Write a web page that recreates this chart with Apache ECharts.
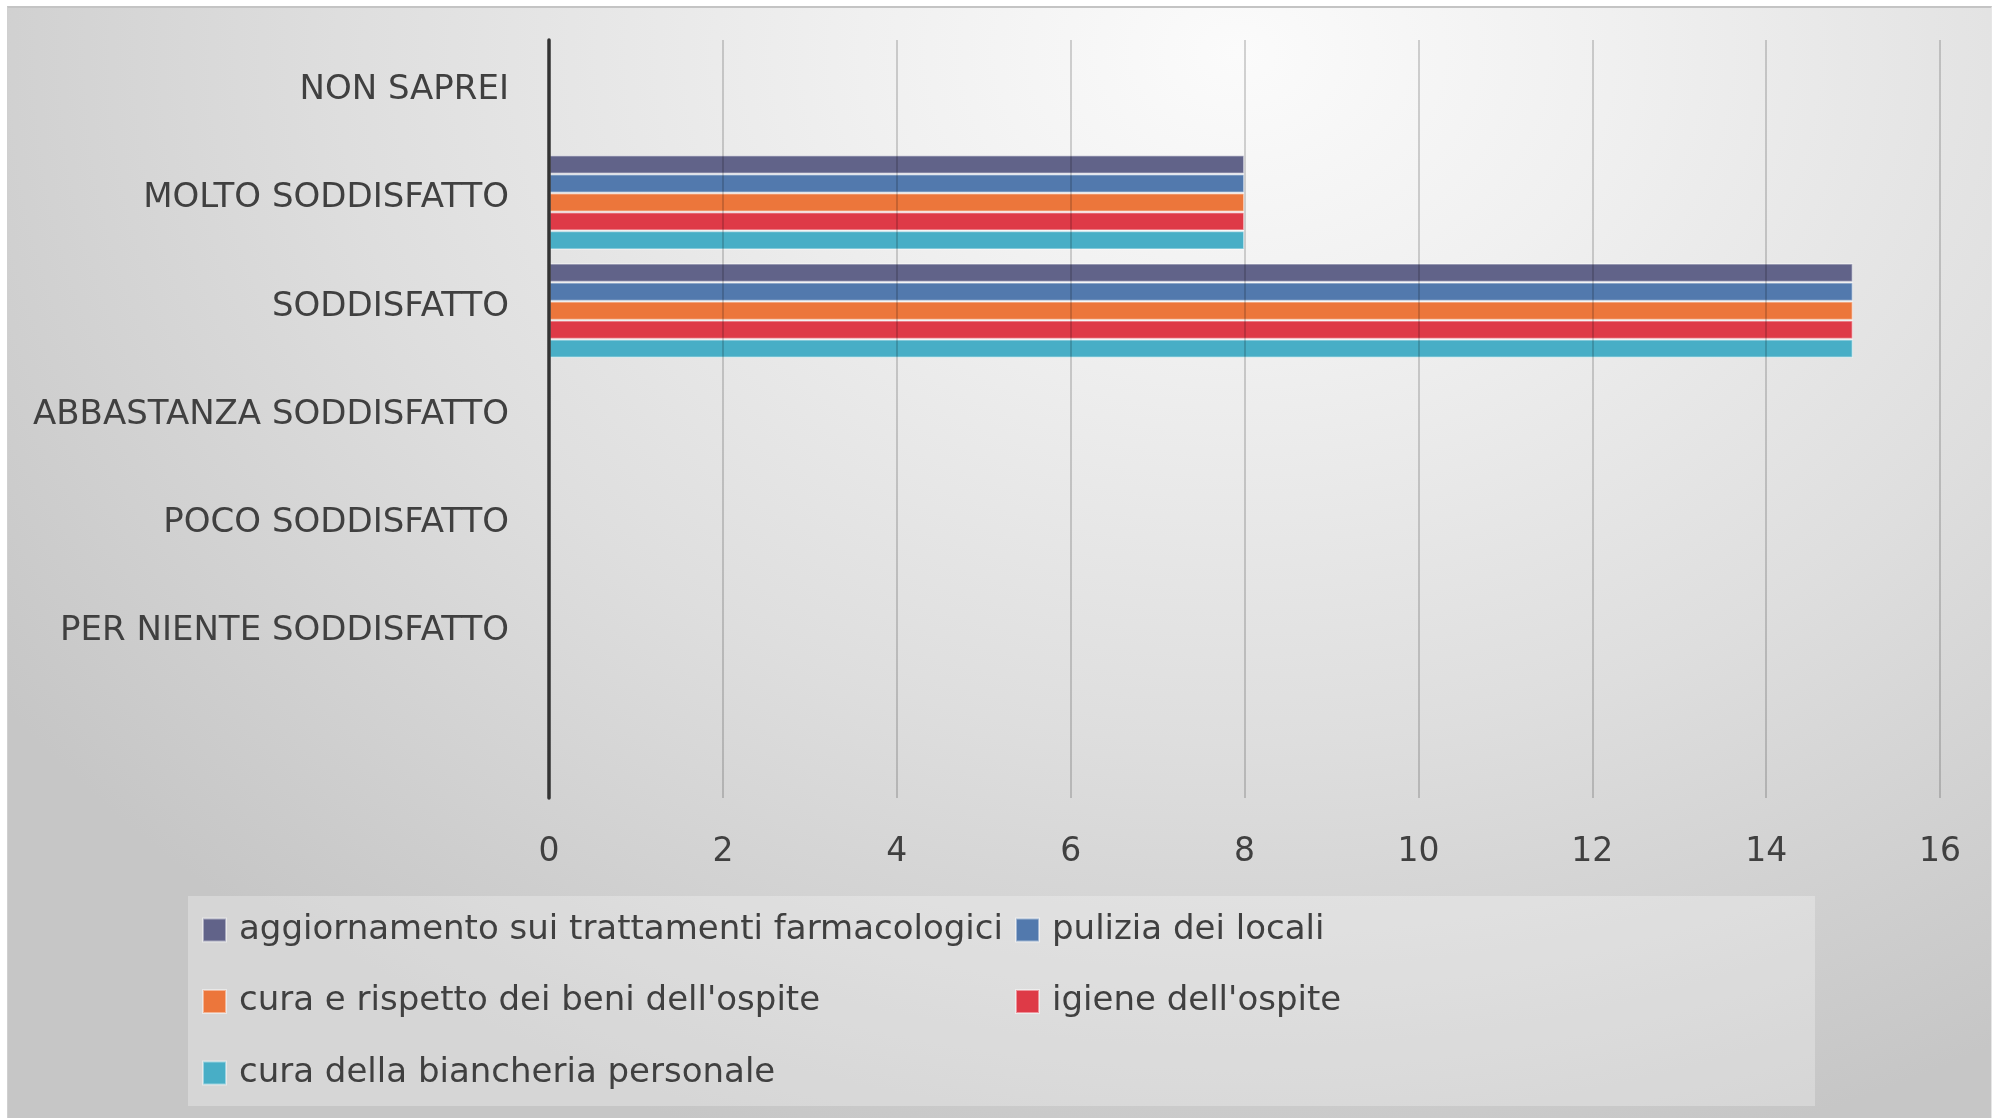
<!DOCTYPE html>
<html>
<head>
<meta charset="utf-8">
<title>Soddisfazione dei servizi</title>
<script src="https://cdn.jsdelivr.net/npm/echarts@6/dist/echarts.min.js"></script>
<style>
  html, body { margin: 0; padding: 0; background: #ffffff; }
  #panel {
    position: absolute; left: 7px; top: 6px; width: 1985px; height: 1112px;
    border-top: 2px solid #c4c4c4; border-left: 1px solid #d0d0d0; border-right: 1px solid #e6e6e6;
    box-sizing: border-box;
    background: radial-gradient(ellipse 1500px 1150px at 62% 4%, #fbfbfb 0%, #f0f0f0 25%, #dedede 60%, #c6c6c6 100%);
  }
  #chart { position: absolute; left: 0; top: 0; width: 2002px; height: 1118px; }
</style>
</head>
<body>
<div id="panel"></div>
<div id="chart"></div>
<script>
// Categories, bottom to top along the vertical axis (the lowest band has no label)
const categories = ['', 'PER NIENTE SODDISFATTO', 'POCO SODDISFATTO', 'ABBASTANZA SODDISFATTO', 'SODDISFATTO', 'MOLTO SODDISFATTO', 'NON SAPREI'];

// Series names and colours
const seriesNames = [
  'aggiornamento sui trattamenti farmacologici',
  'pulizia dei locali',
  "cura e rispetto dei beni dell'ospite",
  "igiene dell'ospite",
  'cura della biancheria personale'
];
const seriesColors = ['#616389', '#5279ad', '#ec763b', '#de3a47', '#48aec6'];

// Number of answers per category for each service
const aggiornamento = [0, 0, 0, 0, 15, 8, 0];
const pulizia       = [0, 0, 0, 0, 15, 8, 0];
const curaBeni      = [0, 0, 0, 0, 15, 8, 0];
const igiene        = [0, 0, 0, 0, 15, 8, 0];
const biancheria    = [0, 0, 0, 0, 15, 8, 0];
const seriesValues = [aggiornamento, pulizia, curaBeni, igiene, biancheria];

// Value axis ticks
const xMin = 0, xMax = 16, xStep = 2;

const textColor = '#404040';
const fontFamily = '"DejaVu Sans", "Liberation Sans", sans-serif';

const chart = echarts.init(document.getElementById('chart'), null, { renderer: 'canvas' });

const series = seriesNames.map((name, i) => ({
  name: name,
  type: 'bar',
  data: seriesValues[i],
  barGap: '0%',
  barCategoryGap: '12.5%',
  itemStyle: {
    color: seriesColors[i],
    borderColor: 'rgba(255,255,255,0.45)',
    borderWidth: 1.5
  },
  emphasis: { disabled: true }
}));

const legendText = {
  color: textColor,
  fontFamily: fontFamily,
  fontSize: 34,
  lineHeight: 40,
  padding: [0, 0, 0, 8]
};

chart.setOption({
  animation: false,
  backgroundColor: 'transparent',
  graphic: [{
    type: 'rect',
    z: -1,
    shape: { x: 188, y: 896, width: 1627, height: 210 },
    style: { fill: 'rgba(255,255,255,0.28)' },
    silent: true
  }],
  grid: { left: 549, right: 62, top: 40, bottom: 320, containLabel: false },
  xAxis: {
    type: 'value',
    min: xMin, max: xMax, interval: xStep,
    z: 3,
    axisLine: { show: false },
    axisTick: { show: false },
    axisLabel: { color: textColor, fontFamily: fontFamily, fontSize: 33, margin: 38 },
    splitLine: { show: true, lineStyle: { color: 'rgba(0,0,0,0.22)', width: 1.5 } }
  },
  yAxis: {
    type: 'category',
    data: categories,
    z: 4,
    axisLine: { show: true, lineStyle: { color: '#333333', width: 3.5 } },
    axisTick: { show: false },
    axisLabel: {
      color: textColor, fontFamily: fontFamily, fontSize: 34, margin: 40,
      verticalAlign: 'bottom', lineHeight: 8
    },
    splitLine: { show: false }
  },
  legend: [
    {
      orient: 'vertical',
      left: 197, top: 905,
      itemWidth: 23, itemHeight: 23, itemGap: 31.5,
      icon: 'rect',
      data: [seriesNames[0], seriesNames[2], seriesNames[4]],
      textStyle: legendText,
      selectedMode: false
    },
    {
      orient: 'vertical',
      left: 1010, top: 905,
      itemWidth: 23, itemHeight: 23, itemGap: 31.5,
      icon: 'rect',
      data: [seriesNames[1], seriesNames[3]],
      textStyle: legendText,
      selectedMode: false
    }
  ],
  series: series
});
</script>
</body>
</html>
